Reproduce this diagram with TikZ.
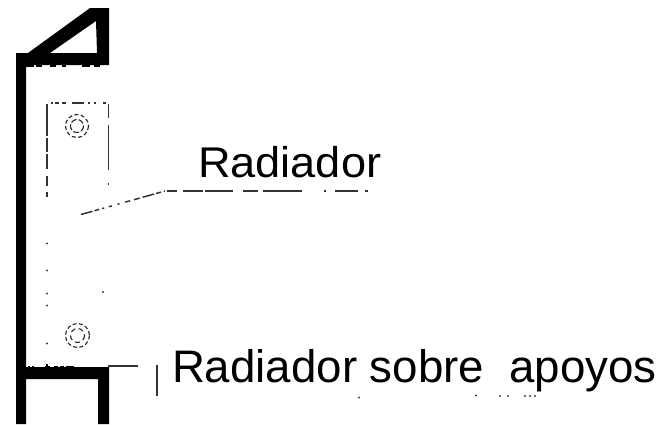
\documentclass[tikz,border=0pt]{standalone}
\usepackage{fontspec}
\setmainfont{Liberation Sans}
\tikzset{
  px/.style={x=1pt,y=-1pt},
  wall/.style={fill=black,draw=none},
  thin line/.style={draw=black!80,line width=1.3pt},
  ghost/.style={draw=black!80,line width=1.5pt},
  circ/.style={draw=black!85,line width=1.1pt,dash pattern=on 4pt off 2.4pt},
  speck/.style={fill=black!75,draw=none},
  lab/.style={anchor=base west,inner sep=0pt,outer sep=0pt,font=\fontsize{43pt}{43pt}\selectfont,transform shape}
}
\begin{document}
\begin{tikzpicture}[px]
\useasboundingbox (0,0) rectangle (664,424);
\fill[white] (0,0) rectangle (664,424);
% thick walls
\fill[wall,even odd rule] (16,424) -- (16,53) -- (28,53) -- (90,8) -- (109,8) -- (109,65) -- (26,65) -- (26,367) -- (109,367) -- (109,424) -- (98,424) -- (98,379) -- (26,379) -- (26,424) -- cycle
  (50,53) -- (96,21) -- (97,53) -- cycle;
% ragged underside of the top bar and top of the bottom bar
\foreach \a/\b in {26/34,36/42,50/56,62/66,82/90,94/100}
  \fill[wall] (\a,65) rectangle (\b,66.5);
\foreach \a/\b in {28/30,32/34,45/50,54/58,60/64,66/74}
  \fill[wall] (\a,365.5) rectangle (\b,367);
\fill[wall] (46,364) rectangle (48,367);
% radiator outline, mostly lost
\foreach \a/\b in {104/136,138/152,154/169,176/186,192/197}
  \draw[ghost] (47,\a) -- (47,\b);
\foreach \a/\b in {104/118,125/170,183/185}
  \draw[ghost] (108.5,\a) -- (108.5,\b);
\foreach \a/\b in {51/53,55/59,62/66,72/84,88/90,94/96,103/106}
  \draw[ghost] (\a,103) -- (\b,103);
% screws
\draw[circ] (77,126) circle (11.5);
\draw[circ,dash pattern=on 6pt off 2pt] (77,126) circle (6.5);
\draw[circ] (77.5,335.5) circle (12);
\draw[circ,dash pattern=on 5pt off 3.5pt] (77.5,335.5) circle (7);
% stray specks
\foreach \x/\y in {47/243.5,47/270.5,47/293.5,47/305.5,47/343.5,103/292,359/397.5,476/395.5,500/396,508/396,525/396,530/396,535/396}
  \fill[speck] (\x,\y) circle (1.2);
% leader of the first label
\coordinate (leaderstart) at (81,214.5);
\coordinate (leaderknee) at (165,191);
\coordinate (leaderend) at (368,191);
\draw[ghost,dash pattern=on 12pt off 2pt on 5pt off 3pt on 2pt off 5pt on 3pt off 6pt on 2pt off 6pt on 5pt off 4pt on 6pt off 3pt]
  (leaderstart) -- (leaderknee);
\foreach \a/\b in {167/177,183/203,205/233,243/258,263/302,324/326,335/358,365/368}
  \draw[ghost] (\a,191) -- (\b,191);
% label ticks
\coordinate (ticka) at (108,366);
\coordinate (tickb) at (138,366);
\draw[thin line] (ticka) -- (tickb);
\coordinate (tickc) at (157,365);
\coordinate (tickd) at (157,396);
\draw[thin line] (tickc) -- (tickd);
% labels
\node[lab,xscale=1.05,yscale=1.0] (radiador) at (198,177) {Radiador};
\node[lab,xscale=1.062,yscale=1.06] (apoyos) at (172,382.5) {Radiador sobre\ \ apoyos};
\end{tikzpicture}
\end{document}
